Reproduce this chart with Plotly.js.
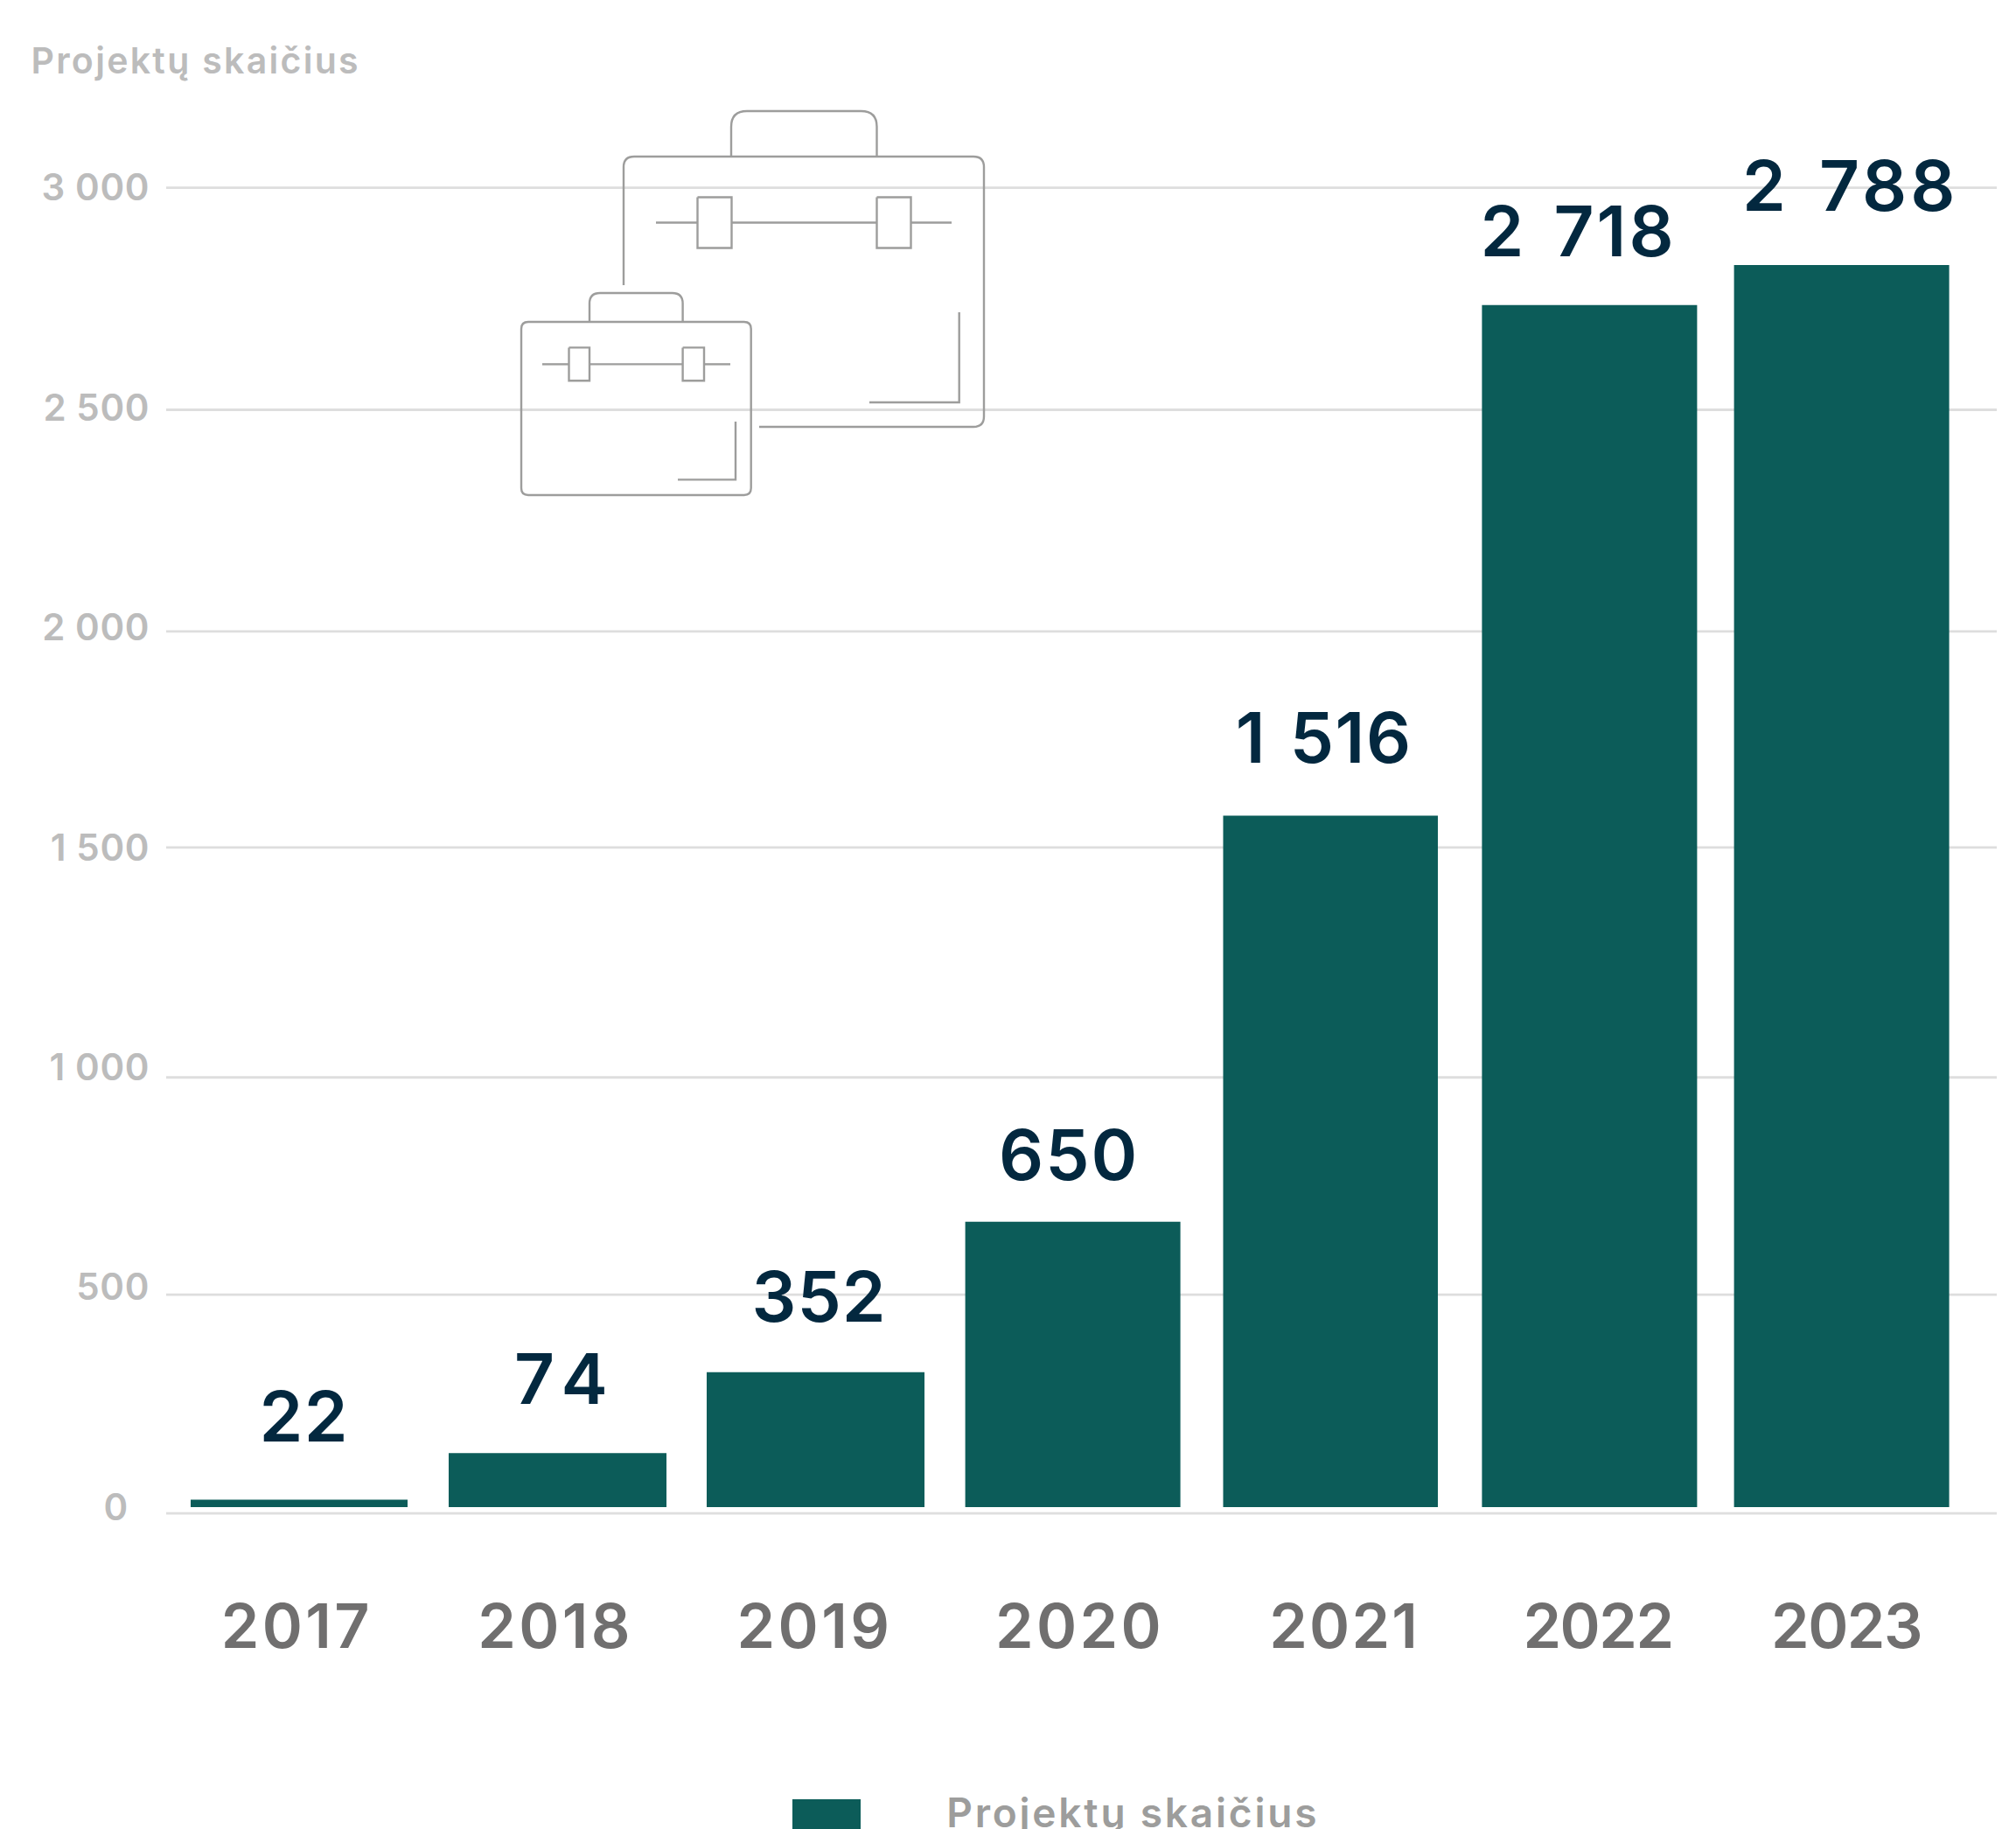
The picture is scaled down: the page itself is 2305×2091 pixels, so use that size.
<!DOCTYPE html>
<html>
<head>
<meta charset="utf-8">
<script src="https://cdn.plot.ly/plotly-3.0.1.min.js"></script>
<style>
html,body{margin:0;padding:0;background:#fff;overflow:hidden}
#chart{width:2305px;height:2091px}
/* spacing that brings the installed font to the reference's wider letterforms */
.annotation[data-index="0"] text{letter-spacing:1.5px}
.annotation[data-index="1"] text{letter-spacing:12px}
.annotation[data-index="2"] text{letter-spacing:1px}
.annotation[data-index="3"] text{letter-spacing:2px}
.annotation[data-index="4"] text{letter-spacing:1.5px;word-spacing:5px}
.annotation[data-index="5"] text{letter-spacing:3px;word-spacing:8px}
.annotation[data-index="6"] text{letter-spacing:4px;word-spacing:10px}
.annotation[data-index="7"] text{letter-spacing:2.3px}
.annotation[data-index="8"] text{letter-spacing:2.8px}
.xtick text{letter-spacing:3.4px}
.xtick:nth-of-type(5) text{letter-spacing:2.2px}
.xtick:nth-of-type(6) text,.xtick:nth-of-type(7) text{letter-spacing:-1.5px}
.ytick text{letter-spacing:.6px}
.ytick:nth-of-type(1) text{letter-spacing:1.2px}
</style>
</head>
<body>
<div id="chart"></div>
<script>
// ---- data ----
const seriesName = "Projektų skaičius";
const years = [2017, 2018, 2019, 2020, 2021, 2022, 2023];
const barHeights = [17, 123, 307, 649, 1572, 2733, 2824];
const valueLabels = ["22", "74", "352", "650", "1 516", "2 718", "2 788"];
const yTickValues = [0, 500, 1000, 1500, 2000, 2500, 3000];
const yTickLabels = ["0\u00A0\u00A0", "500", "1 000", "1 500", "2 000", "2 500", "3 000"];
const gridLineValues = [-14, 483, 977, 1500, 1991, 2495, 3000];

// ---- layout geometry (pixels of the 2305x2091 page) ----
const W = 2305, H = 2091;
const plot = {l: 190, r: 2283, t: 100, b: 1760};
const pxPerYear = 294, firstBarPx = 342;
const pxPerValue = 0.5028, zeroPx = 1723;
const barOffsets = [-0.4218, -0.4184, -0.415, -0.4095, -0.4065, -0.4, -0.4197];
const barWidths = [0.8435, 0.847, 0.847, 0.8367, 0.835, 0.8367, 0.8367];
const xTickPositions = [2016.991, 2017.997, 2019.005, 2020.036, 2021.065, 2022.051, 2023.017];
const labelPxX = [348, 647, 936, 1222, 1513, 1804, 2115];
const labelPxY = [1618, 1575, 1481.5, 1319, 842, 263, 212];

const paperX = p => (p - plot.l) / (plot.r - plot.l);
const paperY = p => (plot.b - p) / (plot.b - plot.t);

// ---- decorative briefcase icon, drawn in page pixels ----
function roundedPath(pts, r) {
  let d = "";
  pts.forEach((pt, i) => {
    if (i === 0) { d += `M${paperX(pt[0])},${paperY(pt[1])}`; return; }
    if (i === pts.length - 1) { d += `L${paperX(pt[0])},${paperY(pt[1])}`; return; }
    const a = pts[i - 1], b = pts[i + 1];
    const ua = [Math.sign(a[0] - pt[0]), Math.sign(a[1] - pt[1])];
    const ub = [Math.sign(b[0] - pt[0]), Math.sign(b[1] - pt[1])];
    d += `L${paperX(pt[0] + ua[0] * r)},${paperY(pt[1] + ua[1] * r)}`;
    d += `Q${paperX(pt[0])},${paperY(pt[1])} ${paperX(pt[0] + ub[0] * r)},${paperY(pt[1] + ub[1] * r)}`;
  });
  return d;
}
const iconLine = {color: "#9d9d9c", width: 2.4};
const iconPaths = [
  // large case
  roundedPath([[713, 326], [713, 179], [1125, 179], [1125, 488], [868, 488]], 12),
  roundedPath([[836, 179], [836, 127], [1002.5, 127], [1002.5, 179]], 18),
  roundedPath([[750, 254.5], [797.5, 254.5]], 0),
  roundedPath([[836.5, 254.5], [1002.5, 254.5]], 0),
  roundedPath([[1041.5, 254.5], [1088, 254.5]], 0),
  roundedPath([[797.5, 225.5], [836.5, 225.5], [836.5, 283.5], [797.5, 283.5], [797.5, 225.5]], 0),
  roundedPath([[1002.5, 225.5], [1041.5, 225.5], [1041.5, 283.5], [1002.5, 283.5], [1002.5, 225.5]], 0),
  roundedPath([[1096.7, 357], [1096.7, 460], [994, 460]], 0),
  // small case
  roundedPath([[596, 380], [596, 368], [858.7, 368], [858.7, 566], [596, 566], [596, 380]], 8),
  roundedPath([[674, 368], [674, 335], [780.6, 335], [780.6, 368]], 12),
  roundedPath([[620, 416.4], [650.5, 416.4]], 0),
  roundedPath([[674, 416.4], [780.6, 416.4]], 0),
  roundedPath([[805, 416.4], [835, 416.4]], 0),
  roundedPath([[650.5, 397.4], [674, 397.4], [674, 435.3], [650.5, 435.3], [650.5, 397.4]], 0),
  roundedPath([[780.6, 397.4], [805, 397.4], [805, 435.3], [780.6, 435.3], [780.6, 397.4]], 0),
  roundedPath([[841, 482], [841, 548.4], [775, 548.4]], 0)
];

const font = "Inter, 'Open Sans', sans-serif";

const shapes = [
  ...gridLineValues.map(v => ({
    type: "line", layer: "below", xref: "paper", yref: "y",
    x0: 0, x1: 1, y0: v, y1: v, line: {color: "#dedede", width: 2.8}
  })),
  ...iconPaths.map(p => ({
    type: "path", layer: "above", xref: "paper", yref: "paper", path: p, line: iconLine
  })),
  // legend swatch
  {type: "rect", layer: "above", xref: "paper", yref: "paper",
   x0: paperX(906), x1: paperX(984), y0: paperY(2057), y1: paperY(2095),
   fillcolor: "#0c5c59", line: {width: 0}}
];

const annotations = [
  ...valueLabels.map((t, i) => ({
    text: t, xref: "paper", yref: "paper", x: paperX(labelPxX[i]), y: paperY(labelPxY[i]),
    xanchor: "center", yanchor: "middle", showarrow: false,
    font: {family: font, size: 80, weight: 600, color: "#03283f"}
  })),
  {text: seriesName, xref: "paper", yref: "paper", x: paperX(53), y: paperY(69),
   xanchor: "left", yanchor: "middle", showarrow: false,
   font: {family: font, size: 41, weight: 600, color: "#bcbcbc"}},
  {text: seriesName, xref: "paper", yref: "paper", x: paperX(1104), y: paperY(2072),
   xanchor: "left", yanchor: "middle", showarrow: false,
   font: {family: font, size: 46, weight: 600, color: "#9d9d9c"}}
];

const trace = {
  type: "bar", name: seriesName, x: years, y: barHeights,
  offset: barOffsets, width: barWidths,
  marker: {color: "#0c5c59", line: {width: 0}},
  hoverinfo: "skip", cliponaxis: false
};

const layout = {
  width: W, height: H, showlegend: false,
  paper_bgcolor: "#ffffff", plot_bgcolor: "rgba(0,0,0,0)",
  margin: {l: plot.l, r: W - plot.r, t: plot.t, b: H - plot.b, pad: 0},
  xaxis: {
    type: "linear", fixedrange: true,
    range: [2017 - (firstBarPx - plot.l) / pxPerYear, 2017 + (plot.r - firstBarPx) / pxPerYear],
    tickmode: "array", tickvals: xTickPositions, ticktext: years.map(String),
    showgrid: false, zeroline: false, showline: false, ticks: "",
    ticklabelstandoff: 53,
    tickfont: {family: font, size: 70, weight: 600, color: "#706f6f"}
  },
  yaxis: {
    type: "linear", fixedrange: true,
    range: [(zeroPx - plot.b) / pxPerValue, (zeroPx - plot.t) / pxPerValue],
    tickmode: "array", tickvals: yTickValues, ticktext: yTickLabels,
    showgrid: false, zeroline: false, showline: false, ticks: "",
    ticklabelstandoff: 18, ticklabelshift: 1.5,
    tickfont: {family: font, size: 42, weight: 600, color: "#bcbcbc"}
  },
  shapes, annotations
};

Plotly.newPlot("chart", [trace], layout, {displayModeBar: false, staticPlot: true});
</script>
</body>
</html>
